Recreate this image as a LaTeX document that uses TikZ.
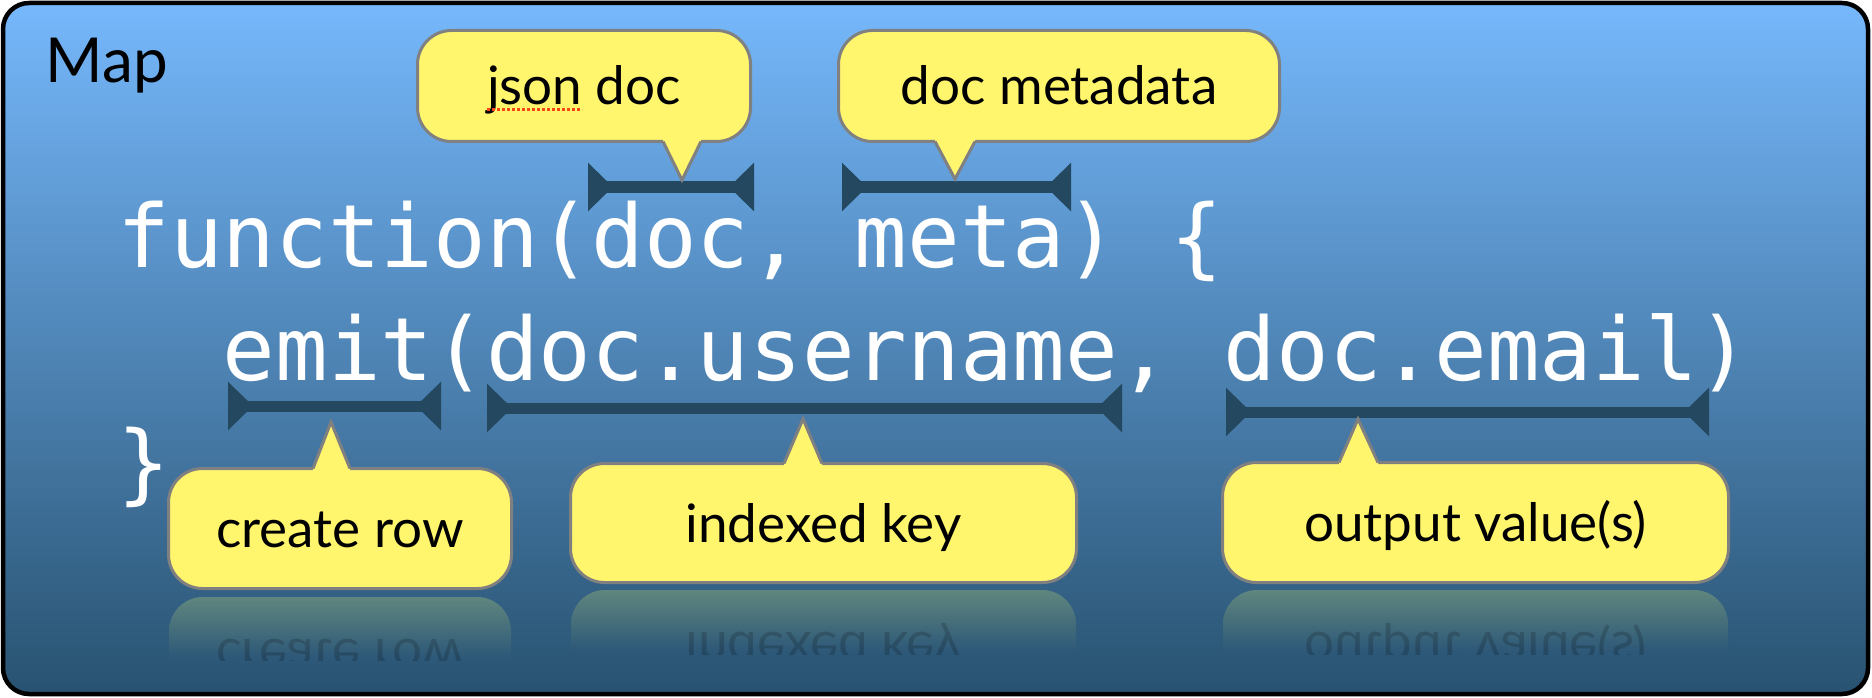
\documentclass[tikz,border=0pt]{standalone}
\usepackage{fontspec}
\setmainfont{Lato}
\newfontfamily\codefont{DejaVu Sans Mono}
\usetikzlibrary{arrows.meta}

\definecolor{skytop}{RGB}{118,184,252}
\definecolor{skybottom}{RGB}{40,82,112}
\definecolor{notepad}{RGB}{255,246,110}
\definecolor{noteedge}{RGB}{128,128,128}
\definecolor{spanline}{RGB}{35,72,96}
\definecolor{echotop}{RGB}{96,134,126}
\definecolor{echobottom}{RGB}{45,88,120}
\definecolor{spellred}{RGB}{250,70,20}

\tikzset{every picture/.style={line width=1pt}}
\tikzset{
  codeline/.style={anchor=base west, inner sep=0pt, text=white, font=\codefont\fontsize{87.5}{100}\selectfont},
  bubble/.style={draw=noteedge, fill=notepad, line width=3pt, rounded corners=34pt, inner sep=0pt, text height=38pt, text depth=0pt, font=\fontsize{53}{60}\selectfont},
  tail/.style={fill=notepad},
  tailedge/.style={draw=noteedge, line width=3pt, line join=miter},
  spanbar/.style={draw=spanline, line width=11pt, {Triangle[reversed,length=25pt,width=47pt]}-{Triangle[reversed,length=25pt,width=47pt]}},
  echo/.style={transform shape, inner sep=0pt, text height=38pt, text depth=0pt, text opacity=0.17, font=\fontsize{53}{60}\selectfont},
  echobox/.style={top color=echotop, bottom color=echobottom, middle color=echobottom, rounded corners=34pt}
}

\begin{document}
\begin{tikzpicture}[x=1pt,y=1pt,yscale=-1,xscale=1]
\useasboundingbox (0,0) rectangle (1872,698);

%Frame
\shade[top color=skytop, bottom color=skybottom, rounded corners=26pt] (3,3) rectangle (1868,694);
\draw[line width=4.5pt, rounded corners=26pt] (3,3) rectangle (1868,694);

\node[anchor=base west, inner sep=0pt, font=\fontsize{62}{70}\selectfont] (title) at (45,83) {Map};

%Code
\node[codeline] (sig) at (117,267) {function(doc, meta) \{};
\node[codeline] (body) at (117,380) {\ \ emit(doc.username, doc.email)};
\node[codeline] (close) at (117,493) {\}};

%Brackets
\coordinate (docA) at (588,187);
\coordinate (docB) at (754,187);
\coordinate (metaA) at (842,187);
\coordinate (metaB) at (1071,187);
\coordinate (emitA) at (228,406);
\coordinate (emitB) at (441,406);
\coordinate (userA) at (487,408);
\coordinate (userB) at (1122,408);
\coordinate (mailA) at (1226,412);
\coordinate (mailB) at (1709,412);
\draw[spanbar] (docA) -- (docB);
\draw[spanbar] (metaA) -- (metaB);
\draw[spanbar] (emitA) -- (emitB);
\draw[spanbar] (userA) -- (userB);
\draw[spanbar] (mailA) -- (mailB);

%Reflections
\begin{scope}
\clip (0,593.5) rectangle (1872,660);
\shade[echobox] (169,597) rectangle (511,717);
\node[echo] (rowecho) at (340,658.5) {create row};
\end{scope}
\begin{scope}
\clip (0,587) rectangle (1872,654);
\shade[echobox] (571,590) rectangle (1076,712);
\node[echo] (keyecho) at (823.5,651) {indexed key};
\shade[echobox] (1223,590) rectangle (1728,712);
\node[echo] (valueecho) at (1475.5,651.5) {output value(s)};
\end{scope}

%Bubbles
\node[bubble, minimum width=333pt, minimum height=111pt] (json) at (584,86) {json doc};
\fill[tail] (663,137) -- (663,141.5) -- (682,180) -- (701,141.5) -- (701,137) -- cycle;
\draw[tailedge] (663,141.5) -- (682,180) -- (701,141.5);
\draw[spellred, line width=3pt, dash pattern=on 3pt off 2pt] (487,110) -- (582,110);

\node[bubble, minimum width=441pt, minimum height=111pt] (meta) at (1059,86) {doc metadata};
\fill[tail] (935,137) -- (935,141.5) -- (955,179) -- (975,141.5) -- (975,137) -- cycle;
\draw[tailedge] (935,141.5) -- (955,179) -- (975,141.5);

\node[bubble, minimum width=343pt, minimum height=120pt] (row) at (340,528.5) {create row};
\fill[tail] (313,473) -- (313,468.5) -- (331,422) -- (350,468.5) -- (350,473) -- cycle;
\draw[tailedge] (313,468.5) -- (331,422) -- (350,468.5);

\node[bubble, minimum width=506pt, minimum height=119pt] (key) at (823.5,523) {indexed key};
\fill[tail] (784,468) -- (784,463.5) -- (803,419) -- (822,463.5) -- (822,468) -- cycle;
\draw[tailedge] (784,463.5) -- (803,419) -- (822,463.5);

\node[bubble, minimum width=506pt, minimum height=120pt] (value) at (1475.5,522.5) {output value(s)};
\fill[tail] (1339,467) -- (1339,462.5) -- (1358,419) -- (1378,462.5) -- (1378,467) -- cycle;
\draw[tailedge] (1339,462.5) -- (1358,419) -- (1378,462.5);

\end{tikzpicture}
\end{document}
